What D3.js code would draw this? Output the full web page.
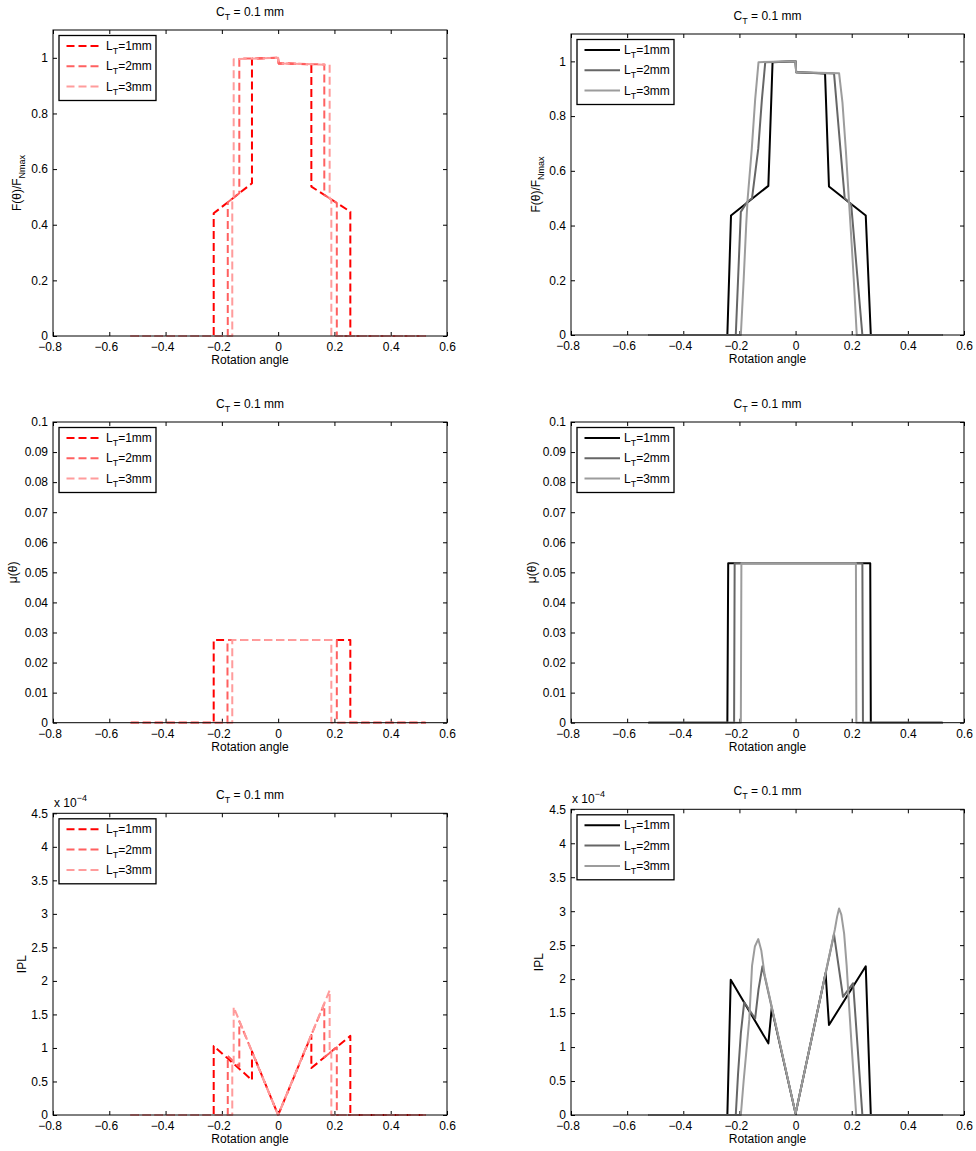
<!DOCTYPE html>
<html>
<head>
<meta charset="utf-8">
<script src="https://cdn.jsdelivr.net/npm/d3@7"></script>
<style>
  html, body { margin: 0; padding: 0; background: #fff; }
  svg { display: block; font-family: "Liberation Sans", Arial, Helvetica, sans-serif; }
</style>
</head>
<body>
<svg id="fig" width="976" height="1151"></svg>
<script>
// ---- axis ticks ----
const X_TICKS = [-0.8, -0.6, -0.4, -0.2, 0, 0.2, 0.4, 0.6];
const F_TICKS = [0, 0.2, 0.4, 0.6, 0.8, 1];
const MU_TICKS = [0, 0.01, 0.02, 0.03, 0.04, 0.05, 0.06, 0.07, 0.08, 0.09, 0.1];
const IPL_TICKS = [0, 0.5, 1, 1.5, 2, 2.5, 3, 3.5, 4, 4.5];
const LT_LABELS = ["1mm", "2mm", "3mm"];

// ---- normalised force F(θ)/F_Nmax, rotation angle vs value ----
const fRed1 = [[-0.5236,0],[-0.229,0],[-0.229,0.441],[-0.093,0.549],[-0.093,0.997],[0,1.0],[0.002,0.98],[0.118,0.977],[0.118,0.537],[0.2565,0.447],[0.2565,0],[0.5236,0]];
const fRed2 = [[-0.5236,0],[-0.179,0],[-0.179,0.481],[-0.138,0.513],[-0.138,0.997],[0,1.0],[0.002,0.98],[0.164,0.976],[0.164,0.507],[0.2085,0.478],[0.2085,0],[0.5236,0]];
const fRed3 = [[-0.5236,0],[-0.163,0],[-0.163,0.493],[-0.158,0.497],[-0.158,0.995],[0,1.0],[0.002,0.98],[0.183,0.975],[0.183,0.495],[0.189,0.491],[0.189,0],[0.5236,0]];

const fGray1 = [[-0.5236,0],[-0.243,0],[-0.23,0.437],[-0.097,0.545],[-0.082,0.997],[0,1.0],[0.002,0.96],[0.105,0.956],[0.119,0.543],[0.25,0.437],[0.268,0],[0.5236,0]];
const fGray2 = [[-0.5236,0],[-0.213,0],[-0.195,0.45],[-0.172,0.487],[-0.155,0.5],[-0.133,0.68],[-0.12,0.86],[-0.108,0.997],[0,1.0],[0.002,0.96],[0.137,0.956],[0.16,0.677],[0.175,0.5],[0.198,0.478],[0.238,0],[0.5236,0]];
const fGray3 = [[-0.5236,0],[-0.195,0],[-0.185,0.2],[-0.176,0.4],[-0.171,0.494],[-0.156,0.68],[-0.144,0.86],[-0.132,0.997],[0,1.0],[0.002,0.96],[0.155,0.957],[0.167,0.85],[0.179,0.677],[0.19,0.494],[0.2,0.33],[0.208,0.19],[0.218,0],[0.5236,0]];

// ---- friction coefficient μ(θ) ----
const muRed1 = [[-0.5236,0],[-0.229,0],[-0.229,0.0275],[0.2565,0.0275],[0.2565,0],[0.5236,0]];
const muRed2 = [[-0.5236,0],[-0.18,0],[-0.18,0.0275],[0.2085,0.0275],[0.2085,0],[0.5236,0]];
const muRed3 = [[-0.5236,0],[-0.163,0],[-0.163,0.0275],[0.189,0.0275],[0.189,0],[0.5236,0]];

const muGray1 = [[-0.5236,0],[-0.243,0],[-0.24,0.053],[0.266,0.053],[0.268,0],[0.5236,0]];
const muGray2 = [[-0.5236,0],[-0.219,0],[-0.217,0.053],[0.238,0.053],[0.240,0],[0.5236,0]];
const muGray3 = [[-0.5236,0],[-0.195,0],[-0.193,0.053],[0.215,0.053],[0.2165,0],[0.5236,0]];

// ---- IPL (×10^-4) ----
const iplRed1 = [[-0.5236,0],[-0.229,0],[-0.229,1.03],[-0.093,0.52],[-0.093,0.95],[0,0],[0.118,1.19],[0.118,0.70],[0.2565,1.18],[0.2565,0],[0.5236,0]];
const iplRed2 = [[-0.5236,0],[-0.179,0],[-0.179,0.88],[-0.138,0.72],[-0.138,1.40],[0,0],[0.164,1.66],[0.164,0.86],[0.2085,1.01],[0.2085,0],[0.5236,0]];
const iplRed3 = [[-0.5236,0],[-0.163,0],[-0.163,0.80],[-0.158,0.78],[-0.158,1.61],[0,0],[0.183,1.86],[0.183,0.93],[0.189,0.95],[0.189,0],[0.5236,0]];

const iplGray1 = [[-0.5236,0],[-0.243,0],[-0.231,1.99],[-0.097,1.055],[-0.085,1.57],[0,0.02],[0.107,2.09],[0.119,1.325],[0.25,2.19],[0.268,0],[0.5236,0]];
const iplGray2 = [[-0.5236,0],[-0.213,0],[-0.205,0.6],[-0.195,1.2],[-0.183,1.66],[-0.144,1.42],[-0.132,1.85],[-0.118,2.19],[0,0.02],[0.137,2.66],[0.169,1.74],[0.205,1.94],[0.238,0],[0.5236,0]];
const iplGray3 = [[-0.5236,0],[-0.195,0],[-0.185,0.5],[-0.175,0.95],[-0.165,1.4],[-0.155,2.2],[-0.145,2.48],[-0.133,2.59],[-0.122,2.42],[-0.11,2.06],[0,0.02],[0.14,2.73],[0.148,2.92],[0.155,3.04],[0.163,2.95],[0.173,2.67],[0.182,2.2],[0.19,1.65],[0.2,1.0],[0.208,0.5],[0.216,0],[0.5236,0]];

// ---- styling ----
const RED = ["#ff0000", "#ff6161", "#ff9c9c"];
const GRAY = ["#000000", "#666666", "#9c9c9c"];
const FONT = 12;
const SUB = 9;

const svg = d3.select("#fig");

const fmt = d => (d === 0 ? "0" : String(+d.toFixed(3))).replace("-", "\u2212");

const panels = [
  { l: 53,  r: 447, t: 30,    b: 336,   ymax: 1.1, ticks: F_TICKS,   ylab: "F", ylabX: 21,  series: [fRed1, fRed2, fRed3],       colors: RED,  dashed: true },
  { l: 571, r: 964, t: 34,    b: 335,   ymax: 1.1, ticks: F_TICKS,   ylab: "F", ylabX: 540, series: [fGray1, fGray2, fGray3],    colors: GRAY, dashed: false },
  { l: 53,  r: 447, t: 422,   b: 722.7, ymax: 0.1, ticks: MU_TICKS,  ylab: "mu", ylabX: 17, series: [muRed1, muRed2, muRed3],    colors: RED,  dashed: true },
  { l: 571, r: 964, t: 422,   b: 722.7, ymax: 0.1, ticks: MU_TICKS,  ylab: "mu", ylabX: 535.5, series: [muGray1, muGray2, muGray3], colors: GRAY, dashed: false },
  { l: 53,  r: 447, t: 813.3, b: 1115,  ymax: 4.5, ticks: IPL_TICKS, ylab: "IPL", ylabX: 25.7, series: [iplRed1, iplRed2, iplRed3],  colors: RED,  dashed: true, exp: true },
  { l: 571, r: 964, t: 809.3, b: 1115,  ymax: 4.5, ticks: IPL_TICKS, ylab: "IPL", ylabX: 543.3, series: [iplGray1, iplGray2, iplGray3], colors: GRAY, dashed: false, exp: true }
];

function subText(sel, parts) {
  // parts: [text, isSub]
  let shifted = false;
  parts.forEach(([txt, sub]) => {
    const ts = sel.append("tspan").text(txt);
    if (sub && !shifted) { ts.attr("dy", 4).attr("font-size", SUB); shifted = true; }
    else if (!sub && shifted) { ts.attr("dy", -4); shifted = false; }
  });
}

panels.forEach(p => {
  const g = svg.append("g");
  const x = d3.scaleLinear().domain([-0.8, 0.6]).range([p.l, p.r]);
  const y = d3.scaleLinear().domain([0, p.ymax]).range([p.b, p.t]);

  // axes with inward ticks
  const ax = (axis, tr) => {
    const a = g.append("g").attr("transform", tr).call(axis);
    a.select(".domain").remove();
    a.selectAll("line").attr("stroke", "#000").attr("stroke-width", 1);
    a.selectAll("text").attr("font-size", FONT).attr("font-family", null).attr("fill", "#000");
    return a;
  };
  const xb = ax(d3.axisBottom(x).tickValues(X_TICKS).tickSize(-4).tickPadding(6.5).tickFormat(fmt), `translate(0,${p.b})`);
  // negative labels: the number is centred on the tick, the minus sign hangs to the left
  xb.selectAll("text").filter(d => d < 0).attr("dx", -3.5);
  ax(d3.axisTop(x).tickValues(X_TICKS).tickSize(-4).tickFormat(""), `translate(0,${p.t})`);
  ax(d3.axisLeft(y).tickValues(p.ticks).tickSize(-4).tickPadding(5).tickFormat(fmt), `translate(${p.l},0)`);
  ax(d3.axisRight(y).tickValues(p.ticks).tickSize(-4).tickFormat(""), `translate(${p.r},0)`);

  // data lines
  const line = d3.line().x(d => x(d[0])).y(d => y(d[1]));
  p.series.forEach((s, i) => {
    g.append("path")
      .attr("d", line(s))
      .attr("fill", "none")
      .attr("stroke", p.colors[i])
      .attr("stroke-width", 2)
      .attr("stroke-linejoin", "round")
      .attr("stroke-dasharray", p.dashed ? "8,4" : null);
  });

  // axes box
  g.append("rect")
    .attr("x", p.l).attr("y", p.t)
    .attr("width", p.r - p.l).attr("height", p.b - p.t)
    .attr("fill", "none").attr("stroke", "#000").attr("stroke-width", 1);

  // title
  const cx = (p.l + p.r) / 2;
  subText(g.append("text").attr("x", cx).attr("y", p.t - 14).attr("text-anchor", "middle").attr("font-size", FONT),
    [["C", false], ["T", true], [" = 0.1 mm", false]]);

  // x label
  g.append("text").attr("x", cx).attr("y", p.b + 28).attr("text-anchor", "middle")
    .attr("font-size", FONT).text("Rotation angle");

  // y label
  const yl = g.append("text")
    .attr("transform", `translate(${p.ylabX},${(p.t + p.b) / 2}) rotate(-90)`)
    .attr("text-anchor", "middle").attr("font-size", FONT);
  if (p.ylab === "F") subText(yl, [["F(\u03b8)/F", false], ["Nmax", true]]);
  else if (p.ylab === "mu") yl.text("\u03bc(\u03b8)");
  else yl.text("IPL");

  // exponent label
  if (p.exp) {
    const e = g.append("text").attr("x", p.l + 1).attr("y", p.t - 6).attr("font-size", FONT);
    e.append("tspan").text("x 10");
    e.append("tspan").attr("dy", -6).attr("font-size", SUB).text("\u22124");
  }

  // legend
  const lx = p.l + 6, ly = p.t + 5.5;
  const lg = g.append("g");
  lg.append("rect").attr("x", lx).attr("y", ly).attr("width", 97).attr("height", 65)
    .attr("fill", "#fff").attr("stroke", "#000").attr("stroke-width", 1.3);
  LT_LABELS.forEach((lab, i) => {
    const ry = ly + 10.5 + i * 20.3;
    lg.append("line").attr("x1", lx + 7.5).attr("x2", lx + 43).attr("y1", ry).attr("y2", ry)
      .attr("stroke", p.colors[i]).attr("stroke-width", 2)
      .attr("stroke-dasharray", p.dashed ? "8,4" : null);
    subText(lg.append("text").attr("x", lx + 47).attr("y", ry + 4).attr("font-size", FONT),
      [["L", false], ["T", true], ["=" + lab, false]]);
  });
});
</script>
</body>
</html>
